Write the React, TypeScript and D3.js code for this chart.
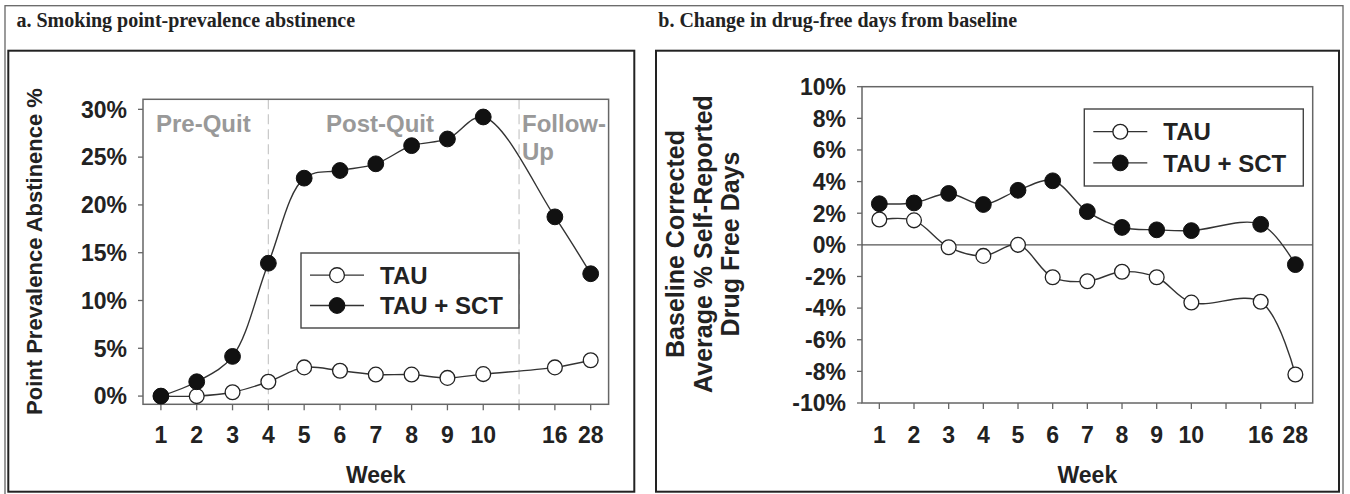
import React from "react";
import * as d3 from "d3";

// ---- data ----
const weekLabels = ["1", "2", "3", "4", "5", "6", "7", "8", "9", "10", "", "16", "28"];
const dataWeekIndex = [0, 1, 2, 3, 4, 5, 6, 7, 8, 9, 11, 12];
const abstTAU = [0, 0, 0.4, 1.5, 3.0, 2.65, 2.25, 2.25, 1.9, 2.3, 3.0, 3.75];
const abstSCT = [0, 1.5, 4.15, 13.9, 22.8, 23.6, 24.3, 26.2, 26.9, 29.2, 18.75, 12.8];
const dfdTAU = [1.6, 1.55, -0.15, -0.7, 0, -2.05, -2.3, -1.7, -2.05, -3.65, -3.6, -8.2];
const dfdSCT = [2.6, 2.65, 3.25, 2.55, 3.45, 4.05, 2.1, 1.1, 0.95, 0.9, 1.3, -1.25];
const leftTicks = [0, 5, 10, 15, 20, 25, 30];
const rightTicks = [-10, -8, -6, -4, -2, 0, 2, 4, 6, 8, 10];
const phaseLabels = ["Pre-Quit", "Post-Quit", "Follow-", "Up"];
const phaseBreaks = [3, 10];
const legendLabels = ["TAU", "TAU + SCT"];

const SANS = "'Liberation Sans', Arial, sans-serif";
const SERIF = "'Liberation Serif', 'Times New Roman', serif";
const INK = "#222";

type Series = { values: number[]; filled: boolean };

function Marker({ x, y, filled }: { x: number; y: number; filled: boolean }) {
  return filled ? (
    <circle cx={x} cy={y} r={7.9} fill="#111" stroke="#111" strokeWidth={1} />
  ) : (
    <circle cx={x} cy={y} r={7.4} fill="#fff" stroke="#222" strokeWidth={1.3} />
  );
}

function Legend({ x, y, w, h }: { x: number; y: number; w: number; h: number }) {
  const rows = [false, true];
  return (
    <g>
      <rect x={x} y={y} width={w} height={h} fill="#fff" stroke="#444" strokeWidth={1.4} />
      {rows.map((filled, i) => {
        const cy = y + h * (i === 0 ? 0.295 : 0.7);
        return (
          <g key={i}>
            <line x1={x + 9} x2={x + 63} y1={cy} y2={cy} stroke="#333" strokeWidth={1.3} />
            <Marker x={x + 36} y={cy} filled={filled} />
            <text x={x + 79} y={cy} dy="0.36em" fontFamily={SANS} fontWeight="bold" fontSize={24} fill={INK}>
              {legendLabels[i]}
            </text>
          </g>
        );
      })}
    </g>
  );
}

function Chart(props: {
  x0: number; x1: number; y0: number; y1: number;
  domain: [number, number]; ticks: number[];
  series: Series[]; zeroLine?: boolean;
  children?: React.ReactNode;
}) {
  const { x0, x1, y0, y1, domain, ticks, series } = props;
  const xs = d3.scaleLinear().domain([-0.5, 12.5]).range([x0, x1]);
  const ys = d3.scaleLinear().domain(domain).range([y1, y0]);
  const line = d3
    .line<[number, number]>()
    .x((d) => xs(d[0]))
    .y((d) => ys(d[1]))
    .curve(d3.curveCatmullRom.alpha(0.5));
  return (
    <g>
      {props.children && (props.children as any)[0]}
      <rect x={x0} y={y0} width={x1 - x0} height={y1 - y0} fill="none" stroke="#666" strokeWidth={1.5} />
      {props.zeroLine && <line x1={x0} x2={x1} y1={ys(0)} y2={ys(0)} stroke="#555" strokeWidth={1.2} />}
      {ticks.map((t) => (
        <g key={t}>
          <line x1={x0 - 5} x2={x0} y1={ys(t)} y2={ys(t)} stroke="#666" strokeWidth={1.3} />
          <text x={x0 - 16} y={ys(t)} dy="0.36em" textAnchor="end" fontFamily={SANS} fontWeight="bold" fontSize={23} fill={INK}>
            {t + "%"}
          </text>
        </g>
      ))}
      {weekLabels.map((lab, i) => (
        <g key={i}>
          <line x1={xs(i)} x2={xs(i)} y1={y1} y2={y1 + 6} stroke="#666" strokeWidth={1.3} />
          <text x={xs(i)} y={443} textAnchor="middle" fontFamily={SANS} fontWeight="bold" fontSize={23} fill={INK}>
            {lab}
          </text>
        </g>
      ))}
      <text x={(x0 + x1) / 2} y={483} textAnchor="middle" fontFamily={SANS} fontWeight="bold" fontSize={23} fill={INK}>
        Week
      </text>
      {series.map((s, k) => (
        <g key={k}>
          <path
            d={line(dataWeekIndex.map((w, i) => [w, s.values[i]] as [number, number])) || ""}
            fill="none"
            stroke="#333"
            strokeWidth={1.4}
          />
        </g>
      ))}
      {series.map((s, k) =>
        dataWeekIndex.map((w, i) => (
          <Marker key={k + "-" + i} x={xs(w)} y={ys(s.values[i])} filled={s.filled} />
        ))
      )}
      {props.children && (props.children as any)[1]}
    </g>
  );
}

export default function App() {
  const Lx0 = 143, Lx1 = 608.6, Ly0 = 99.3, Ly1 = 404.3;
  const lxs = d3.scaleLinear().domain([-0.5, 12.5]).range([Lx0, Lx1]);
  const Rx0 = 862, Rx1 = 1312.7, Ry0 = 86.7, Ry1 = 403;
  return (
    <svg width={1350} height={494} style={{ position: "absolute", left: 0, top: 0, background: "#fff" }}>
      <rect x={0} y={0} width={1350} height={494} fill="#fff" />
      {/* outer frame */}
      <rect x={5} y={5.7} width={1338} height={495} fill="none" stroke="#666" strokeWidth={1.3} />
      <text x={16.5} y={27} fontFamily={SERIF} fontWeight="bold" fontSize={20} fill={INK}>
        a. Smoking point-prevalence abstinence
      </text>
      <text x={658.3} y={27} fontFamily={SERIF} fontWeight="bold" fontSize={20} fill={INK}>
        b. Change in drug-free days from baseline
      </text>
      {/* panel boxes */}
      <rect x={8.3} y={50.7} width={626} height={441} fill="none" stroke="#222" strokeWidth={2} />
      <rect x={656} y={50.7} width={683} height={441} fill="none" stroke="#222" strokeWidth={2} />

      {/* Panel a */}
      <text transform="translate(42,251.5) rotate(-90)" textAnchor="middle" fontFamily={SANS} fontWeight="bold" fontSize={22} fill={INK}>
        Point Prevalence Abstinence %
      </text>
      <Chart
        x0={Lx0} x1={Lx1} y0={Ly0} y1={Ly1}
        domain={[-0.86, 31.05]}
        ticks={leftTicks}
        series={[{ values: abstTAU, filled: false }, { values: abstSCT, filled: true }]}
      >
        {[
          <g key="bg">
            {phaseBreaks.map((b) => (
              <line key={b} x1={lxs(b)} x2={lxs(b)} y1={Ly0} y2={Ly1} stroke="#c8c8c8" strokeWidth={1.2} strokeDasharray="10,5" />
            ))}
            <text x={156} y={132} fontFamily={SANS} fontWeight="bold" fontSize={24} fill="#999">{phaseLabels[0]}</text>
            <text x={380} y={132} textAnchor="middle" fontFamily={SANS} fontWeight="bold" fontSize={24} fill="#999">{phaseLabels[1]}</text>
            <text x={522} y={132} fontFamily={SANS} fontWeight="bold" fontSize={24} fill="#999">{phaseLabels[2]}</text>
            <text x={522} y={160} fontFamily={SANS} fontWeight="bold" fontSize={24} fill="#999">{phaseLabels[3]}</text>
          </g>,
          <Legend key="lg" x={301} y={253} w={218} h={75} />,
        ]}
      </Chart>

      {/* Panel b */}
      <g fontFamily={SANS} fontWeight="bold" fontSize={25} fill={INK} textAnchor="middle">
        <text transform="translate(684,244) rotate(-90)">Baseline Corrected</text>
        <text transform="translate(712,244) rotate(-90)">Average % Self-Reported</text>
        <text transform="translate(739,244) rotate(-90)">Drug Free Days</text>
      </g>
      <Chart
        x0={Rx0} x1={Rx1} y0={Ry0} y1={Ry1}
        domain={[-10, 10]}
        ticks={rightTicks}
        zeroLine
        series={[{ values: dfdTAU, filled: false }, { values: dfdSCT, filled: true }]}
      >
        {[<g key="bg" />, <Legend key="lg" x={1084.3} y={109} w={219} h={77} />]}
      </Chart>
    </svg>
  );
}
